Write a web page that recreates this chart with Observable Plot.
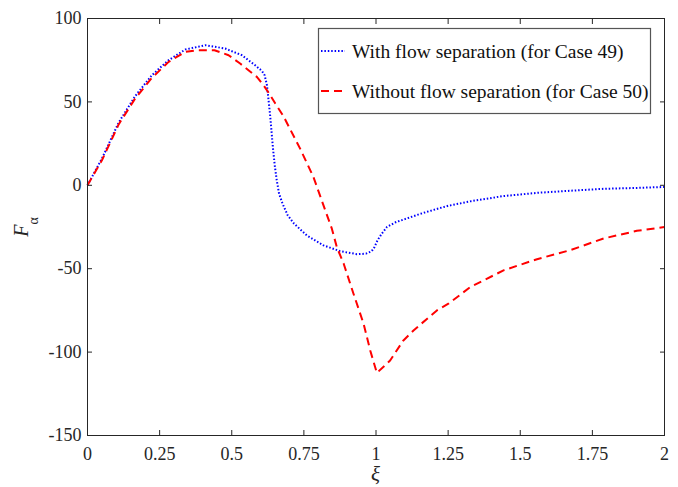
<!DOCTYPE html>
<html>
<head>
<meta charset="utf-8">
<script src="https://cdn.jsdelivr.net/npm/d3@7"></script>
<script src="https://cdn.jsdelivr.net/npm/@observablehq/plot@0.6"></script>
<style>
  body { margin: 0; background: #fff; }
  #chart { width: 678px; height: 487px; }
</style>
</head>
<body>
<div id="chart"></div>
<script>
// Case 49: with flow separation
const xiSep = [0, 0.05, 0.108, 0.165, 0.223, 0.281, 0.339, 0.408, 0.477, 0.535, 0.581, 0.605, 0.614,
  0.622, 0.627, 0.633, 0.638, 0.643, 0.649, 0.656, 0.664, 0.676, 0.694, 0.716, 0.760, 0.818, 0.876,
  0.934, 0.965, 0.985, 0.995, 1.005, 1.020, 1.038, 1.070, 1.100, 1.150, 1.210, 1.250, 1.330, 1.440,
  1.560, 1.670, 1.790, 1.900, 2.0];
const fSep = [0, 16, 37.6, 53.4, 66, 75, 81.4, 84, 82, 78, 72, 68.5, 66,
  60, 52, 42, 32, 22, 12, 3, -5, -11, -18, -23, -30, -36, -39.5,
  -41.3, -41, -39.5, -37, -33, -29, -25, -22, -20.3, -17.3, -14.2, -12.3, -9.5, -6.5,
  -4.5, -3.3, -2.1, -1.6, -1.0];

// Case 50: without flow separation
const xiNoSep = [0, 0.05, 0.108, 0.165, 0.223, 0.281, 0.339, 0.38, 0.44, 0.489, 0.529, 0.558, 0.587,
  0.61, 0.63, 0.651, 0.679, 0.737, 0.783, 0.824, 0.847, 0.864, 0.888, 0.922, 0.957, 0.980, 1.003,
  1.049, 1.095, 1.130, 1.211, 1.251, 1.327, 1.442, 1.558, 1.673, 1.789, 1.904, 2.0];
const fNoSep = [0, 15, 36.5, 52, 64.4, 74, 80, 81, 81, 78, 73, 69, 65,
  60, 55, 49, 41.5, 22, 5, -15, -26, -37, -47, -65, -83, -99, -112.5,
  -105, -93, -87, -75, -71, -61, -51, -44.3, -38.9, -31.9, -27.3, -25];

const seriesNames = ["With flow separation (for Case 49)", "Without flow separation (for Case 50)"];
const xTicks = [0, 0.25, 0.5, 0.75, 1, 1.25, 1.5, 1.75, 2];
const yTicks = [-150, -100, -50, 0, 50, 100];

const sep = xiSep.map((x, i) => ({xi: x, f: fSep[i]}));
const noSep = xiNoSep.map((x, i) => ({xi: x, f: fNoSep[i]}));

const serif = "'Liberation Serif', 'Times New Roman', serif";
const ink = "#262626";
const dotted = "1.5,1.9";
const dashed = "8,5";

const plot = Plot.plot({
  width: 678,
  height: 487,
  marginLeft: 87,
  marginRight: 14,
  marginTop: 18,
  marginBottom: 52,
  style: {fontFamily: serif, fontSize: "18px", color: ink, background: "#fff", overflow: "visible"},
  x: {domain: [0, 2]},
  y: {domain: [-150, 100]},
  marks: [
    Plot.line(sep, {x: "xi", y: "f", stroke: "#0000ff", strokeWidth: 2, strokeDasharray: dotted, strokeLinecap: "butt"}),
    Plot.line(noSep, {x: "xi", y: "f", stroke: "#ff0000", strokeWidth: 2, strokeDasharray: dashed, strokeLinecap: "butt"}),
    Plot.frame({stroke: ink}),
    Plot.axisX({anchor: "bottom", ticks: xTicks, tickSize: -5, tickPadding: 16.5, tickFormat: d => String(d), label: null}),
    Plot.axisX({anchor: "top", ticks: xTicks, tickSize: -5, tickFormat: () => "", label: null}),
    Plot.axisY({anchor: "left", ticks: yTicks, tickSize: -5, tickPadding: 11, tickFormat: d => String(d), label: null}),
    Plot.axisY({anchor: "right", ticks: yTicks, tickSize: -5, tickFormat: () => "", label: null})
  ]
});

document.getElementById("chart").appendChild(plot);

const svg = d3.select(plot);
const xs = plot.scale("x");

// axis titles
svg.append("text")
  .attr("x", xs.apply(1))
  .attr("y", 481)
  .attr("text-anchor", "middle")
  .attr("font-family", serif)
  .attr("font-style", "italic")
  .attr("font-size", 21)
  .attr("fill", ink)
  .text("ξ");

const yTitle = svg.append("text")
  .attr("transform", "translate(28,227) rotate(-90)")
  .attr("text-anchor", "middle")
  .attr("font-family", serif)
  .attr("font-size", 20)
  .attr("fill", ink);
yTitle.append("tspan").attr("font-style", "italic").text("F");
yTitle.append("tspan").attr("font-size", 14).attr("dy", 10).text("α");

// legend box
const legend = svg.append("g");
legend.append("rect")
  .attr("x", 318.5).attr("y", 28.5).attr("width", 332).attr("height", 85)
  .attr("fill", "#fff").attr("stroke", "#555").attr("stroke-width", 1.2);
const styles = [
  {stroke: "#0000ff", dash: dotted},
  {stroke: "#ff0000", dash: dashed}
];
seriesNames.forEach((name, i) => {
  const cy = 51 + i * 40;
  legend.append("line")
    .attr("x1", 321).attr("x2", 345).attr("y1", cy).attr("y2", cy)
    .attr("stroke", styles[i].stroke).attr("stroke-width", 2)
    .attr("stroke-dasharray", styles[i].dash);
  legend.append("text")
    .attr("x", 352).attr("y", cy + 6.5)
    .attr("text-anchor", "start")
    .attr("font-family", serif).attr("font-size", 19.5).attr("fill", "#111")
    .text(name);
});
</script>
</body>
</html>
